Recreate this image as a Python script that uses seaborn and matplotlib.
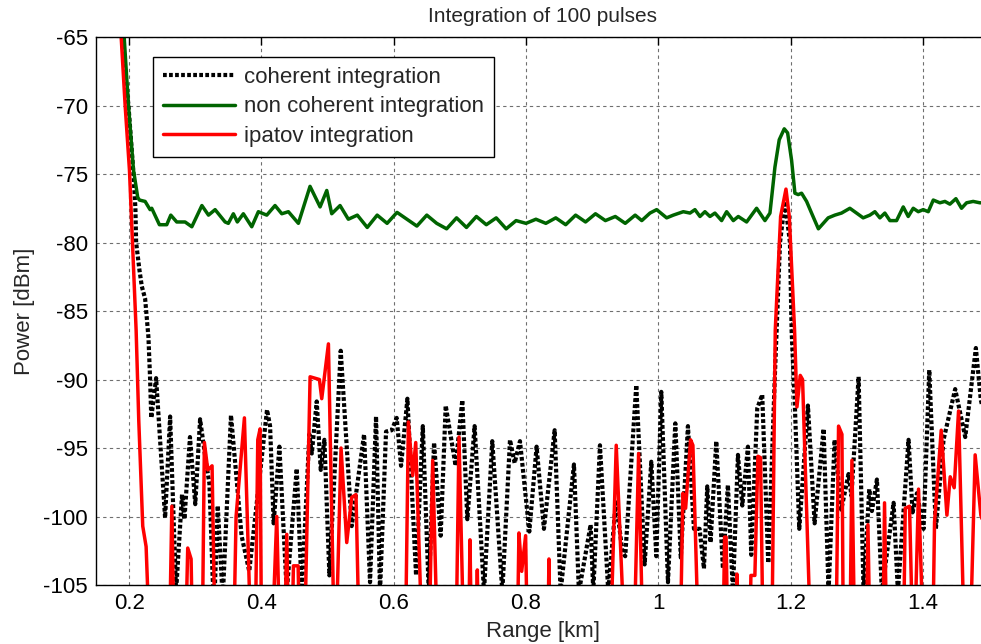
import matplotlib
matplotlib.use("Agg")
import matplotlib.pyplot as plt
import pandas as pd
import seaborn as sns

# values (range in km, power in dBm)
# points below -105 dBm are cut off by the axis, -112 stands for "off the chart"
coherent_km = [0.185, 0.189, 0.199, 0.2066, 0.2095, 0.2106, 0.2156, 0.2192, 0.2242, 0.2292,
               0.2316, 0.2335, 0.2408, 0.2544, 0.262, 0.271, 0.280, 0.2836, 0.292, 0.300,
               0.3073, 0.3164, 0.3214, 0.3264, 0.329, 0.334, 0.3415, 0.354, 0.370, 0.3816,
               0.4085, 0.4131, 0.4185, 0.4272, 0.4383, 0.4534, 0.461, 0.4725, 0.4762, 0.4836,
               0.4897, 0.4952, 0.5028, 0.5199, 0.5365, 0.5552, 0.5642, 0.5733, 0.5793, 0.5884,
               0.5970, 0.6045, 0.6111, 0.6207, 0.6338, 0.644, 0.653, 0.661, 0.671, 0.6786,
               0.6936, 0.7037, 0.7113, 0.7223, 0.7365, 0.7490, 0.7642, 0.7758, 0.7828, 0.7909,
               0.805, 0.816, 0.8271, 0.8433, 0.8523, 0.8725, 0.880, 0.8977, 0.9017, 0.9118,
               0.9244, 0.936, 0.9458, 0.950, 0.9667, 0.9793, 0.9894, 0.997, 1.0045, 1.0146,
               1.0257, 1.034, 1.0448, 1.0539, 1.0624, 1.069, 1.074, 1.079, 1.0876, 1.0977,
               1.1052, 1.1128, 1.1204, 1.127, 1.1355, 1.1405, 1.1496, 1.1571, 1.1662, 1.176,
               1.184, 1.1915, 1.199, 1.2015, 1.2065, 1.2131, 1.2262, 1.2363, 1.2499, 1.2574,
               1.2665, 1.2766, 1.2876, 1.292, 1.3028, 1.3103, 1.3189, 1.3229, 1.3305, 1.338,
               1.3557, 1.3622, 1.3783, 1.3844, 1.391, 1.401, 1.4096, 1.4196, 1.4312, 1.4488,
               1.464, 1.4801, 1.4876, 1.495]
coherent_dbm = [-63, -65, -70, -75, -77.5, -80, -82, -83.2, -84.1, -86.9,
                -89.8, -92.8, -89.9, -100.1, -92.7, -105.5, -98.4, -100.2, -94.2, -99.1,
                -92.9, -96.1, -97.6, -104.6, -106, -99.2, -106, -92.6, -101.4, -104,
                -92.2, -93.4, -100.5, -94.9, -105.5, -96.5, -105.5, -94.0, -95.4, -91.6,
                -96.6, -94.4, -104.3, -87.9, -100.7, -94.0, -104.8, -92.7, -105.5, -93.8,
                -93.7, -92.8, -96.3, -91.4, -104.3, -93.4, -105.5, -94.6, -101.4, -91.9,
                -96.3, -91.5, -100.2, -93.4, -105.5, -94.5, -105.5, -94.4, -96.1, -94.5,
                -101.1, -94.9, -100.9, -93.7, -105.5, -96.2, -105.5, -100.6, -105.5, -94.8,
                -105.5, -98.8, -102.6, -102.9, -90.4, -103.5, -96.0, -102.9, -90.9, -104.8,
                -93.2, -103, -93.4, -100.9, -100.9, -103.8, -97.8, -101.9, -94.5, -103.8,
                -97.7, -105.5, -95.5, -99.2, -94.9, -102.8, -92.1, -91.1, -103.4, -90,
                -80, -77.0, -80, -86.4, -92, -100.9, -91.9, -100.5, -93.6, -105.5,
                -94.4, -99.5, -96.9, -98.5, -89.8, -105.5, -98.0, -99.6, -97.3, -105.5,
                -99.0, -105.5, -94.4, -99.7, -98.3, -100.9, -89.3, -100.9, -94.4, -90.7,
                -94.2, -87.7, -91.5, -93]

noncoherent_km = [0.185, 0.1925, 0.199, 0.2066, 0.213, 0.2156, 0.2242, 0.2317, 0.2342, 0.2458,
                  0.2569, 0.263, 0.272, 0.2846, 0.2948, 0.31, 0.32, 0.33, 0.3451, 0.35,
                  0.3576, 0.3636, 0.3727, 0.3854, 0.3954, 0.4081, 0.4206, 0.4308, 0.4408, 0.4559,
                  0.4735, 0.4887, 0.4988, 0.5063, 0.5189, 0.5314, 0.545, 0.56, 0.575, 0.59,
                  0.605, 0.62, 0.635, 0.65, 0.665, 0.68, 0.695, 0.71, 0.725, 0.74,
                  0.755, 0.77, 0.785, 0.80, 0.815, 0.83, 0.845, 0.86, 0.875, 0.89,
                  0.905, 0.92, 0.935, 0.95, 0.965, 0.975, 0.9874, 0.9975, 1.0126, 1.0227,
                  1.0378, 1.0479, 1.0554, 1.063, 1.0705, 1.0781, 1.0856, 1.0957, 1.1033, 1.1134,
                  1.1209, 1.1335, 1.1486, 1.1612, 1.1688, 1.1763, 1.1828, 1.1904, 1.1955, 1.2015,
                  1.2065, 1.2115, 1.2166, 1.2242, 1.2317, 1.242, 1.2568, 1.2669, 1.277, 1.2896,
                  1.2997, 1.3097, 1.3198, 1.3274, 1.335, 1.3425, 1.3501, 1.3602, 1.3703, 1.3778,
                  1.3854, 1.393, 1.4005, 1.4081, 1.4157, 1.4257, 1.4333, 1.4408, 1.4499, 1.4584,
                  1.466, 1.476, 1.486, 1.495]
noncoherent_dbm = [-63, -65, -70, -74.7, -76.7, -76.9, -77.0, -77.6, -77.5, -78.7,
                   -78.7, -78.0, -78.5, -78.5, -78.85, -77.3, -78.0, -77.6, -78.5, -78.6,
                   -77.9, -78.5, -77.9, -78.85, -77.75, -78.0, -77.3, -77.9, -77.75, -78.6,
                   -75.9, -77.4, -76.2, -77.9, -77.3, -78.3, -78.0, -78.9, -78.0, -78.6,
                   -77.8, -78.3, -78.8, -78.0, -78.6, -79.0, -78.2, -78.9, -78.1, -78.7,
                   -78.2, -79.0, -78.4, -78.6, -78.3, -78.6, -78.2, -78.7, -78.0, -78.5,
                   -77.9, -78.4, -78.1, -78.6, -78.0, -78.4, -77.85, -77.6, -78.2, -78.0,
                   -77.75, -77.85, -77.6, -78.1, -77.75, -78.1, -77.85, -78.4, -77.75, -78.4,
                   -78.1, -78.5, -77.5, -78.4, -77.85, -74.5, -72.5, -71.7, -72.0, -74.0,
                   -76.4, -76.5, -76.4, -77.0, -77.85, -79.0, -78.2, -78.0, -77.85, -77.5,
                   -77.85, -78.2, -78.0, -77.75, -78.2, -77.85, -78.4, -78.4, -77.4, -78.1,
                   -77.5, -77.75, -77.6, -77.75, -76.9, -77.1, -77.0, -77.2, -76.8, -77.5,
                   -77.1, -77.0, -77.1, -77.1]

ipatov_km = [0.185, 0.188, 0.194, 0.2005, 0.2106, 0.2146, 0.2206, 0.2257, 0.2282, 0.232,
             0.260, 0.2646, 0.269, 0.284, 0.2886, 0.2937, 0.297, 0.310, 0.3138, 0.3189,
             0.3254, 0.331, 0.357, 0.3617, 0.3743, 0.3858, 0.390, 0.3945, 0.398, 0.4005,
             0.414, 0.4232, 0.429, 0.434, 0.4383, 0.442, 0.445, 0.4484, 0.4555, 0.459,
             0.464, 0.4736, 0.4877, 0.4912, 0.5013, 0.5113, 0.5204, 0.5290, 0.5365, 0.543,
             0.5491, 0.617, 0.6222, 0.6287, 0.6333, 0.6448, 0.6524, 0.6589, 0.6675, 0.6935,
             0.6987, 0.7072, 0.7125, 0.7153, 0.7185, 0.7235, 0.7264, 0.729, 0.786, 0.7893,
             0.7935, 0.7994, 0.803, 0.832, 0.8347, 0.837, 0.926, 0.9364, 0.9516, 0.962,
             0.9702, 0.978, 1.0322, 1.0372, 1.0413, 1.0488, 1.0523, 1.0624, 1.097, 1.1002,
             1.1025, 1.106, 1.116, 1.1189, 1.122, 1.137, 1.14, 1.146, 1.1506, 1.1546,
             1.1591, 1.171, 1.1768, 1.1849, 1.193, 1.198, 1.206, 1.2096, 1.2146, 1.2181,
             1.2322, 1.268, 1.2725, 1.2776, 1.2801, 1.289, 1.2927, 1.2977, 1.314, 1.3169,
             1.321, 1.339, 1.342, 1.346, 1.37, 1.3733, 1.3798, 1.386, 1.3934, 1.4025,
             1.414, 1.4176, 1.4277, 1.4363, 1.4413, 1.4473, 1.4539, 1.464, 1.47, 1.479,
             1.4876, 1.495]
ipatov_dbm = [-63, -65, -70, -74.7, -86.4, -93, -100.7, -102.2, -105.5, -112,
              -112, -99.25, -112, -112, -102.3, -103.1, -112, -112, -94.6, -96.6,
              -96.3, -112, -112, -100, -92.8, -112, -112, -94.4, -93.6, -112,
              -112, -100, -112, -112, -101.3, -112, -112, -103.6, -103.6, -112,
              -112, -89.8, -90, -91.4, -87.4, -112, -95, -101.9, -98.6, -98.4,
              -112, -112, -93.1, -97, -94.6, -112, -112, -95.9, -112, -112,
              -94.2, -112, -112, -101.7, -112, -112, -103.9, -112, -112, -101.2,
              -104, -101.4, -112, -112, -103.1, -112, -112, -94.8, -112, -112,
              -95.4, -112, -112, -98.3, -99.4, -94.4, -94.8, -112, -112, -101.5,
              -101.5, -112, -112, -104.2, -112, -112, -104.3, -104.3, -95.6, -95.7,
              -112, -112, -86.4, -78.1, -76.1, -78.1, -86.4, -92, -89.7, -90,
              -112, -112, -93.4, -94, -112, -112, -95.9, -112, -112, -100.6,
              -112, -112, -99, -112, -112, -99.4, -99.25, -112, -98.0, -112,
              -112, -100.4, -93.7, -99.9, -97.1, -97.9, -92.3, -112, -112, -95.5,
              -99.9, -101]

series_names = ["coherent integration", "non coherent integration", "ipatov integration"]
series_colors = ["black", "#006400", "#ff0000"]
x_ticks = [0.2, 0.4, 0.6, 0.8, 1.0, 1.2, 1.4]
x_tick_labels = ["0.2", "0.4", "0.6", "0.8", "1", "1.2", "1.4"]
y_ticks = [-105, -100, -95, -90, -85, -80, -75, -70, -65]

sns.set_style("white")
plt.rcParams["font.family"] = ["Liberation Sans", "DejaVu Sans"]
plt.rcParams["axes.unicode_minus"] = False

fig = plt.figure(figsize=(9.81, 6.44), dpi=100)
# the right edge of the axes runs a few pixels past the picture, as in the reference
ax = fig.add_axes([0.0979, 0.0916, 0.9103, 0.8509])

df_coh = pd.DataFrame({"range": coherent_km, "power": coherent_dbm})
df_non = pd.DataFrame({"range": noncoherent_km, "power": noncoherent_dbm})
df_ipa = pd.DataFrame({"range": ipatov_km, "power": ipatov_dbm})

sns.lineplot(data=df_coh, x="range", y="power", sort=False, estimator=None, ax=ax,
             color=series_colors[0], linewidth=3.0, linestyle=(0, (0.9, 0.55)),
             label=series_names[0])
sns.lineplot(data=df_non, x="range", y="power", sort=False, estimator=None, ax=ax,
             color=series_colors[1], linewidth=2.5, label=series_names[1])
sns.lineplot(data=df_ipa, x="range", y="power", sort=False, estimator=None, ax=ax,
             color=series_colors[2], linewidth=2.5, label=series_names[2])

ax.set_xlim(0.15, 1.5)
ax.set_ylim(-105, -65)
ax.set_xticks(x_ticks)
ax.set_xticklabels(x_tick_labels)
ax.set_yticks(y_ticks)
ax.grid(True, color="#6f6f6f", linestyle=(0, (3, 3)), linewidth=0.8)
ax.tick_params(direction="in", top=True, right=True, length=6, width=1,
               labelsize=16, colors="black", pad=6)
for side in ax.spines.values():
    side.set_color("black")
    side.set_linewidth(1.0)

ax.set_title("Integration of 100 pulses", fontsize=15, pad=11)
ax.set_xlabel("Range [km]", fontsize=16, labelpad=5)
ax.set_ylabel("Power [dBm]", fontsize=16, labelpad=6)

leg = ax.legend(loc="upper left", bbox_to_anchor=(0.064, 0.9635), fontsize=16,
                frameon=True, fancybox=False, edgecolor="black", framealpha=1,
                handlelength=3.25, handletextpad=0.4, labelspacing=0.38,
                borderpad=0.45, borderaxespad=0)
leg.get_frame().set_linewidth(1.0)

fig.savefig("out.png", dpi=100)
